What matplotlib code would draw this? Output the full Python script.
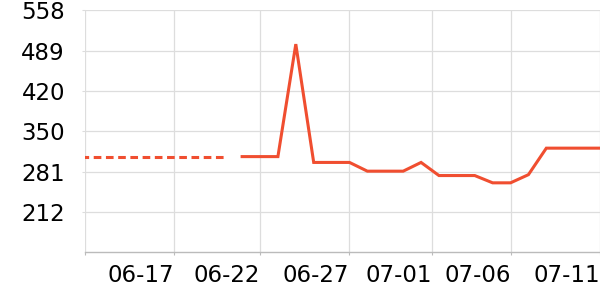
import matplotlib
matplotlib.use("Agg")
import matplotlib.pyplot as plt
import pandas as pd

plt.rcParams['font.family'] = ['DejaVu Sans']

# 实线数据
dates = ['2024-06-21', '2024-06-22', '2024-06-23', '2024-06-24', '2024-06-25',
         '2024-06-26', '2024-06-27', '2024-06-28', '2024-06-29', '2024-06-30',
         '2024-07-01', '2024-07-02', '2024-07-03', '2024-07-04', '2024-07-05',
         '2024-07-06', '2024-07-07', '2024-07-08', '2024-07-09', '2024-07-10',
         '2024-07-11']
values = [307, 307, 307, 500, 297, 297, 297, 282, 282, 282,
          297, 274.5, 274.5, 274.5, 262, 262, 276, 321.5, 321.5, 321.5,
          321.5]

# 虚线（缺失段）
dash_dates = ['2024-06-12', '2024-06-20']
dash_values = [307, 307]

# 刻度
xtick_dates = ['2024-06-12 05:17', '2024-06-17 04:48', '2024-06-22 00:00', '2024-06-27 00:00',
               '2024-07-01 14:24', '2024-07-06 00:00', '2024-07-11 00:00']
xtick_labels = ['', '06-17', '06-22', '06-27', '07-01', '07-06', '07-11']
ytick_values = [558, 488.8, 419.6, 350.4, 281.2, 212.0]
ytick_labels = ['558', '489', '420', '350', '281', '212']

color = '#f04e30'
grid_c = '#dddddd'

fig = plt.figure(figsize=(6, 3), dpi=100)
ax = fig.add_axes([0.1417, 0.159, 0.8583, 0.8066])

x = pd.to_datetime(dates)
ax.plot(x, values, color=color, lw=2.2, solid_joinstyle='miter')
ax.plot(pd.to_datetime(dash_dates), dash_values, color=color, lw=2.2,
        dashes=(2.5, 1.5), dash_capstyle='butt')

xt = pd.to_datetime(xtick_dates, format='%Y-%m-%d %H:%M')
ax.set_xlim(xt[0], xt[-1])
ax.set_ylim(142.8, 558)
ax.set_xticks(xt)
ax.set_xticklabels(xtick_labels, ha='right')
ax.set_yticks(ytick_values)
ax.set_yticklabels(ytick_labels)

ax.grid(True, color=grid_c, lw=0.9)
ax.set_axisbelow(True)
for s in ['top', 'right', 'left']:
    ax.spines[s].set_visible(False)
ax.spines['bottom'].set_color('#bbbbbb')
ax.spines['bottom'].set_linewidth(1.0)

ax.tick_params(axis='x', length=2.5, color='#bbbbbb', pad=6, labelsize=16.5)
ax.tick_params(axis='y', length=2.5, color=grid_c, pad=12, labelsize=16.5)

fig.savefig('out.png', dpi=100)
